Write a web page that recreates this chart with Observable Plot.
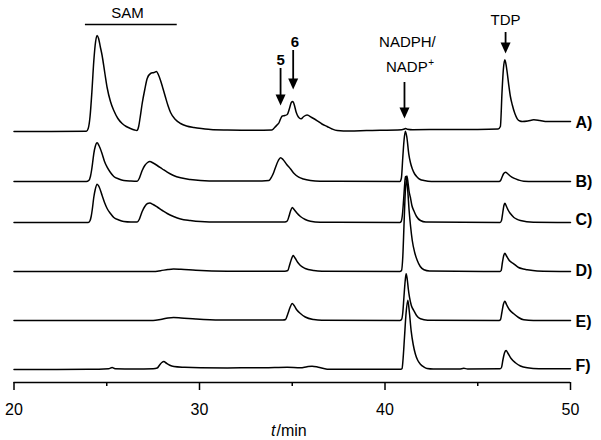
<!DOCTYPE html>
<html><head><meta charset="utf-8">
<script src="https://cdn.jsdelivr.net/npm/d3@7"></script>
<script src="https://cdn.jsdelivr.net/npm/@observablehq/plot@0.6"></script>
<style>body{margin:0;background:#fff} svg{display:block}</style>
</head><body><div id="chart"></div>
<script>
// Trace names, vertical offsets (baselines) and label levels
const traceNames = ["A", "B", "C", "D", "E", "F"];
const baselines = [251, 201, 160, 111, 62, 13];
const labelLevels = [260, 201, 163, 112, 61, 17];

// Each trace: [t (min), signal above its baseline]
const traceA = [[20,0],[22,0],[23.9,0.3],[24.0,3],[24.1,15],[24.2,40],[24.3,70],[24.4,90],[24.48,96],[24.56,93],[24.65,85],[24.75,76],[24.9,58],[25.02,44],[25.2,30],[25.38,21],[25.6,13],[25.83,8],[26.05,5],[26.28,3],[26.5,1.5],[26.62,1],[26.72,5],[26.8,14],[26.91,28],[27.05,42],[27.18,53],[27.36,58],[27.55,59],[27.68,60],[27.78,57],[27.9,51],[28.03,43],[28.17,34],[28.3,26],[28.44,19],[28.7,12],[28.98,8],[29.3,5.5],[29.7,4],[30.2,2.8],[30.6,2],[31.5,1.5],[33,1.2],[33.9,1.5],[34.05,4],[34.18,6.5],[34.28,8.5],[34.38,13],[34.46,15.5],[34.6,16],[34.73,17],[34.85,23],[34.95,29],[35.03,30],[35.12,26],[35.2,20],[35.27,16.5],[35.38,13.5],[35.48,12.7],[35.62,15],[35.8,16.5],[36.05,14],[36.35,10.7],[36.6,7.5],[36.88,5],[37.15,2.5],[37.42,1],[38.1,0.5],[39,1],[40.9,1.8],[41.05,2.5],[41.12,3],[41.2,2.3],[41.5,1.8],[43,2],[45,2.1],[46.1,2.5],[46.22,5],[46.31,40],[46.38,62],[46.46,71.7],[46.55,64],[46.67,46.7],[46.76,35],[46.86,26.7],[47.0,18],[47.13,12.7],[47.27,10.5],[47.4,10],[47.7,10.5],[48.02,11.7],[48.35,11],[48.74,10],[49.3,10],[50,10]];
const traceB = [[20,0],[23.9,0],[24.03,1],[24.12,5],[24.18,11],[24.24,19],[24.3,27.7],[24.38,35],[24.48,38.7],[24.58,36],[24.75,27.7],[24.88,20],[25.02,14.3],[25.2,9],[25.38,5],[25.65,2.5],[25.92,1],[26.3,0.5],[26.64,0.3],[26.75,3],[26.85,8],[26.91,11],[27.05,16],[27.2,19],[27.32,20],[27.5,18.5],[27.72,16],[28.0,12.5],[28.26,9.3],[28.6,6],[28.98,3.7],[29.5,2],[30.05,1],[31,0.5],[33,0.5],[33.74,1],[33.9,5],[34.0,9],[34.1,14.3],[34.25,21],[34.37,23.7],[34.5,22],[34.7,17],[34.9,12.7],[35.1,8],[35.35,4.3],[35.6,2.5],[35.98,1],[36.5,0.3],[40.8,0],[40.88,3],[40.96,24.3],[41.03,42],[41.1,50.3],[41.18,44],[41.28,27.7],[41.37,19],[41.47,12.7],[41.6,7.5],[41.74,4.3],[41.9,2],[42.1,1],[42.5,0],[46.15,0],[46.23,1],[46.3,4],[46.4,8],[46.5,9.3],[46.6,8],[46.75,5.5],[46.94,3.3],[47.2,1.5],[47.48,0.3],[48,0],[50,0]];
const traceC = [[20,0],[24.0,0],[24.09,1.5],[24.16,6],[24.22,13],[24.3,25],[24.38,33],[24.48,38.3],[24.58,36],[24.75,27],[24.88,20],[25.02,14],[25.2,9],[25.38,5],[25.65,2.5],[25.92,1],[26.3,0.5],[26.64,0.5],[26.75,3],[26.85,8],[26.91,11],[27.05,16],[27.2,19],[27.32,19.4],[27.5,18],[27.72,15.5],[28.0,12],[28.26,9],[28.6,6],[28.98,3.5],[29.5,2],[30.05,1],[31,0.5],[34.6,0.5],[34.73,1.5],[34.82,6],[34.9,11],[35.0,15],[35.1,13],[35.25,9.5],[35.44,6],[35.7,3],[35.98,1.3],[36.5,0.3],[40.8,0],[40.87,1],[40.94,8],[41.0,22],[41.06,38],[41.1,46],[41.14,43],[41.18,46.5],[41.24,40],[41.3,31],[41.37,25],[41.45,17],[41.55,12],[41.7,6],[41.91,2],[42.2,0.5],[46.2,0],[46.28,2],[46.35,10],[46.41,17],[46.46,19.3],[46.55,16],[46.65,12],[46.77,8.7],[46.95,5],[47.1,3.3],[47.3,2],[48,0.3],[50,0]];
const traceD = [[20,0],[27.5,0],[27.9,0.8],[28.3,2],[28.6,2.5],[29.0,2.2],[29.8,1.2],[31.5,0.3],[34.6,0.3],[34.76,1],[34.85,6],[34.95,12],[35.05,16],[35.15,13.5],[35.3,9],[35.44,6],[35.7,3],[36.16,1],[36.6,0.3],[40.8,0],[40.89,1],[40.96,15],[41.02,44],[41.09,78],[41.16,92.7],[41.23,80],[41.3,61],[41.38,45],[41.47,31],[41.6,19],[41.74,11],[41.9,5],[42.1,1.7],[42.4,0.5],[46.2,0],[46.26,1],[46.33,9],[46.4,16],[46.46,18.3],[46.55,15.5],[46.7,11],[46.94,7.7],[47.2,4],[47.45,2.5],[47.67,1.7],[48.2,0.5],[50,0]];
const traceE = [[20,0],[27.5,0],[27.9,1],[28.3,2.5],[28.6,3],[29.0,2.6],[29.8,1.5],[31.1,0.5],[34.5,0.5],[34.64,1],[34.75,6],[34.88,13],[35.0,17],[35.1,15],[35.25,10.5],[35.44,7],[35.7,3.5],[36.16,1],[36.6,0.3],[40.8,0],[40.89,1],[40.96,8],[41.02,23.3],[41.09,40],[41.14,46.7],[41.2,41],[41.26,31],[41.32,23.3],[41.42,15],[41.55,10],[41.7,5],[41.91,1.7],[42.3,0.3],[46.15,0],[46.23,1],[46.3,8],[46.38,16],[46.46,19.3],[46.55,16],[46.7,11],[46.94,6.7],[47.2,3],[47.48,0.7],[48,0],[50,0]];
const traceF = [[20,0],[24,0.2],[25.1,0.8],[25.29,2],[25.45,0.8],[26.5,0.6],[27.5,0.8],[27.72,1.5],[27.85,4.5],[27.97,7],[28.08,8],[28.2,6.5],[28.4,4.2],[28.62,3],[29.2,2.2],[30.05,1.7],[31.5,1.6],[33.5,1.8],[34.73,2.3],[35.44,1.7],[35.8,2.8],[36.07,3.3],[36.4,2.3],[36.88,0.3],[38,0.2],[40.85,0.2],[40.92,1],[40.98,12],[41.05,32],[41.13,55],[41.23,69.3],[41.31,58],[41.41,38.7],[41.52,25],[41.64,15.3],[41.77,9],[41.91,5.3],[42.1,2.5],[42.27,1],[42.6,0.5],[44,0.5],[44.25,1.2],[44.45,0.5],[46.2,0.7],[46.28,2],[46.36,10],[46.45,17],[46.53,19],[46.62,16.5],[46.8,11],[47.03,6.7],[47.3,3.5],[47.67,1.7],[48.3,0.8],[50,0.8]];
const traces = [traceA, traceB, traceC, traceD, traceE, traceF];

// Axis ticks
const majorTicks = [20, 30, 40, 50];
const minorTicks = [25, 35, 45];

// Annotations
const arrowLabels = ["5", "6", "TDP"];
const arrowX = [34.37, 35.05, 41.05, 46.5];
const arrowTop = [314, 332, 300, 350];
const arrowTip = [277, 293, 264, 329];

// Build rows for the library
const rows = [];
traces.forEach((tr, i) => tr.forEach(([t, h]) => rows.push({trace: traceNames[i], t, v: baselines[i] + h})));
const traceLabels = traceNames.map((n, i) => ({label: n + ")", y: labelLevels[i]}));
const arrows = arrowX.map((x, i) => ({x, top: arrowTop[i], tip: arrowTip[i]}));

const arrowHead = {
  draw(ctx, size) {
    const r = Math.sqrt(size / Math.PI);
    const w = r, h = 2.2 * r;
    ctx.moveTo(0, 0); ctx.lineTo(-w, -h); ctx.lineTo(w, -h); ctx.closePath();
  }
};

const font = "'Liberation Sans', Arial, Helvetica, sans-serif";
const chart = Plot.plot({
  width: 601, height: 440,
  marginLeft: 13.5, marginRight: 31, marginTop: 22, marginBottom: 58,
  x: {domain: [20, 50], label: null},
  y: {domain: [0, 360], axis: null},
  style: {fontFamily: font, color: "#000", background: "#fff", overflow: "visible"},
  marks: [
    Plot.line(rows, {x: "t", y: "v", z: "trace", curve: "monotone-x", stroke: "#000", strokeWidth: 1.5}),
    Plot.ruleY([0], {stroke: "#000", strokeWidth: 1.5}),
    Plot.axisX({ticks: majorTicks, tickSize: 8, tickPadding: 13, fontSize: 16, strokeWidth: 1.5, tickFormat: d => String(d), label: null}),
    Plot.axisX({ticks: minorTicks, tickSize: 4, strokeWidth: 1.5, tickFormat: () => "", label: null}),
    Plot.text(["t"], {x: 34.1, y: -48, text: d => d, textAnchor: "end", fontStyle: "italic", fontSize: 16}),
    Plot.text(["/min"], {x: 34.15, y: -48, text: d => d, textAnchor: "start", fontSize: 16}),
    Plot.text(traceLabels, {x: 50, y: "y", text: "label", dx: 5, textAnchor: "start", fontWeight: "bold", fontSize: 16}),
    // SAM
    Plot.text(["SAM"], {x: 26.12, y: 369, text: d => d, fontSize: 15}),
    Plot.ruleY([358], {x1: 23.85, x2: 28.8, stroke: "#000", strokeWidth: 1.5}),
    // arrows
    Plot.ruleX(arrows, {x: "x", y1: "top", y2: d => d.tip + 3, stroke: "#000", strokeWidth: 1.8}),
    Plot.dot(arrows, {x: "x", y: "tip", symbol: arrowHead, r: 5, fill: "#000", stroke: "none"}),
    Plot.text([{t: arrowLabels[0], x: 34.37, y: 322}, {t: arrowLabels[1], x: 35.15, y: 340}], {x: "x", y: "y", text: "t", fontWeight: "bold", fontSize: 15}),
    Plot.text([arrowLabels[2]], {x: 46.5, y: 362, text: d => d, fontSize: 15}),
    Plot.text(["NADPH/"], {x: 41.21, y: 340, text: d => d, fontSize: 15}),
    Plot.text(["NADP"], {x: 42.3, y: 315, text: d => d, textAnchor: "end", fontSize: 15}),
    Plot.text(["+"], {x: 42.3, y: 320, text: d => d, textAnchor: "start", dx: 0.5, fontSize: 10})
  ]
});
document.getElementById("chart").appendChild(chart);
</script>
</body></html>
